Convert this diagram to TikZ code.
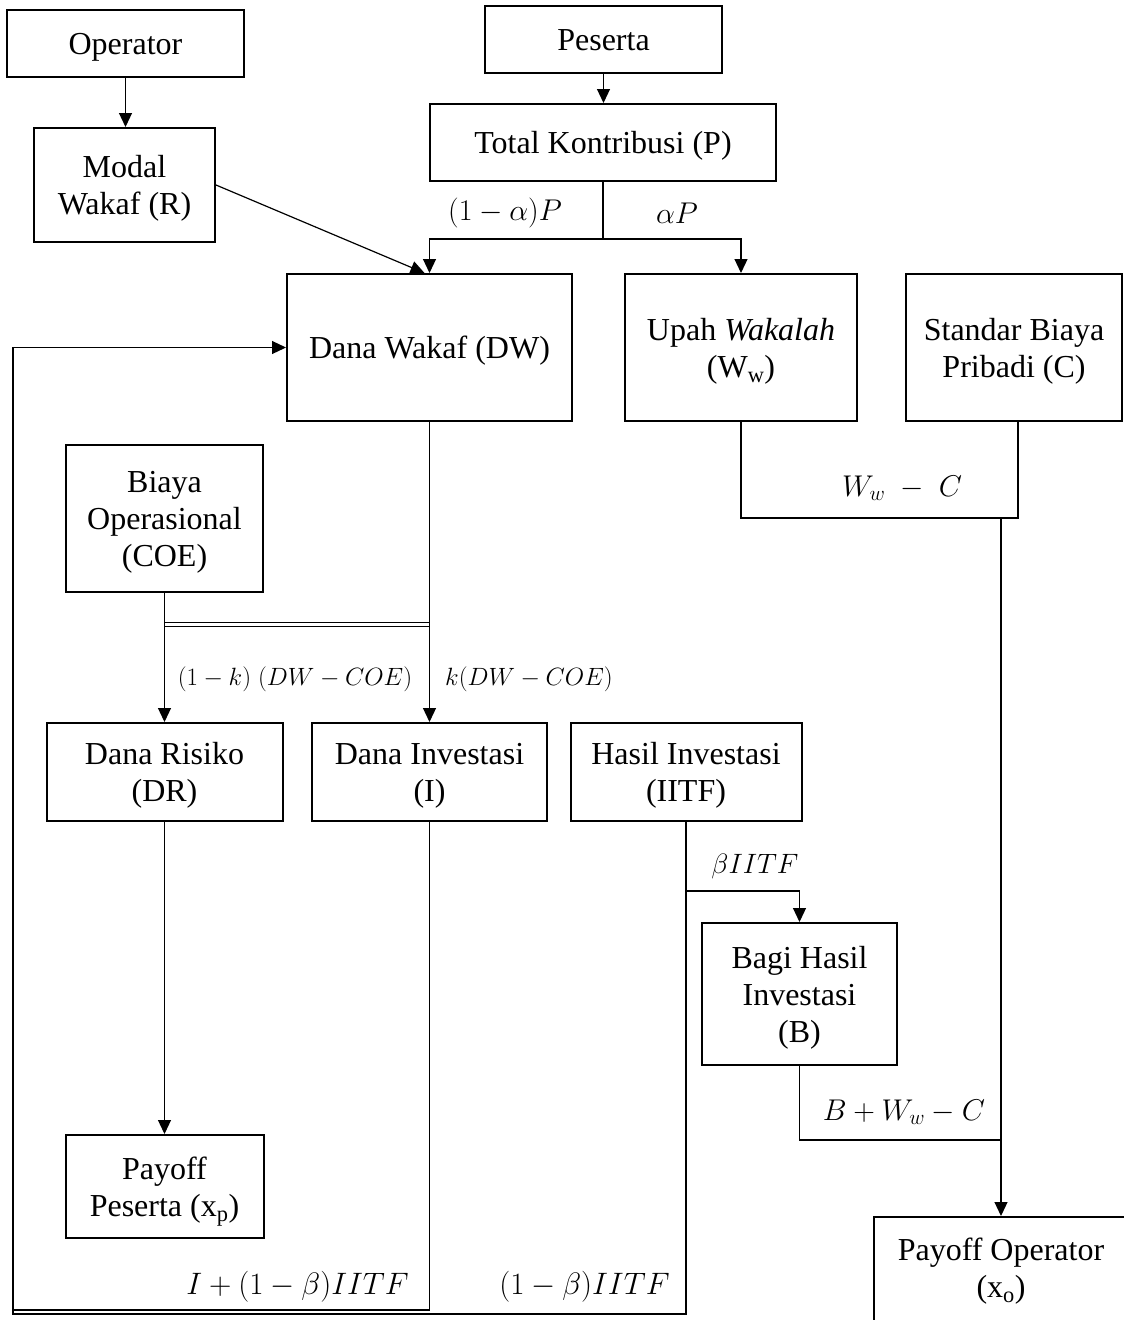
\RequirePackage{fix-cm}
\documentclass[tikz,border=0pt]{standalone}
\usepackage{fontspec}
\setmainfont{Liberation Serif}
\usetikzlibrary{arrows.meta}
\newcommand\boxtxt[1]{\raisebox{-4pt}[\height][\depth]{\begin{tabular}{@{}c@{}}#1\end{tabular}}}
\begin{document}
\begin{tikzpicture}[x=1pt,y=-1pt,
  box/.style={draw, line width=2pt, inner sep=0pt, font=\fontsize{32}{37}\selectfont},
  conn/.style={line width=1.2pt},
  arr/.style={conn, -{Triangle[length=14pt,width=13pt]}},
  lbl/.style={inner sep=0pt, font=\fontsize{30}{34}\selectfont},
  blbl/.style={inner sep=0pt, font=\fontsize{31}{34}\selectfont},
  slbl/.style={inner sep=0pt, font=\fontsize{25}{30}\selectfont}]
\useasboundingbox (0,0) rectangle (1124,1320);

% boxes
\node[box, minimum width=237, minimum height=67] (op) at (125.5,43.5) {\boxtxt{Operator}};
\node[box, minimum width=237, minimum height=67] (pes) at (603.5,39.5) {\boxtxt{Peserta}};
\node[box, minimum width=346, minimum height=77] (tk) at (603,142.5) {\boxtxt{Total Kontribusi (P)}};
\node[box, minimum width=181, minimum height=114] (mw) at (124.5,185) {\boxtxt{Modal\\Wakaf (R)}};
\node[box, minimum width=285, minimum height=147] (dw) at (429.5,347.5) {\boxtxt{Dana Wakaf (DW)}};
\node[box, minimum width=232, minimum height=147] (up) at (741,347.5) {\boxtxt{Upah \textit{Wakalah}\\(W\textsubscript{w})}};
\node[box, minimum width=216, minimum height=147] (sb) at (1014,347.5) {\boxtxt{Standar Biaya\\Pribadi (C)}};
\node[box, minimum width=197, minimum height=147] (coe) at (164.5,518.5) {\boxtxt{Biaya\\Operasional\\(COE)}};
\node[box, minimum width=236, minimum height=98] (dr) at (164.5,772) {\boxtxt{Dana Risiko\\(DR)}};
\node[box, minimum width=235, minimum height=98] (di) at (429.5,772) {\boxtxt{Dana Investasi\\(I)}};
\node[box, minimum width=231, minimum height=98] (hi) at (686,772) {\boxtxt{Hasil Investasi\\(IITF)}};
\node[box, minimum width=195, minimum height=142] (bh) at (799.5,994) {\boxtxt{Bagi Hasil\\Investasi\\(B)}};
\node[box, minimum width=198, minimum height=103] (pp) at (164.5,1186.5) {\boxtxt{Payoff\\Peserta (x\textsubscript{p})}};
\node[box, minimum width=254, minimum height=130, anchor=north] (pob) at (1001,1216) {};
\node[box, draw=none] (po) at (1001,1268) {\boxtxt{Payoff Operator\\(x\textsubscript{o})}};

% junction coordinates
\coordinate (sp) at (603,239);
\coordinate (d1) at (164.5,622);
\coordinate (d2) at (429.5,622);
\coordinate (d3) at (164.5,626);
\coordinate (d4) at (429.5,626);
\coordinate (hb) at (686,1314);
\coordinate (lb) at (13,1314);
\coordinate (lt) at (13,347.5);
\coordinate (ib) at (429.5,1310);
\coordinate (ilb) at (13,1310);
\coordinate (wj) at (741,518);
\coordinate (cj) at (1018,518);
\coordinate (oj) at (1001,518);
\coordinate (bj) at (686,891);
\coordinate (bj2) at (799.5,891);
\coordinate (bb) at (799.5,1140);
\coordinate (bb2) at (1001,1140);

% connectors
\draw[arr] (op.south) -- (op.south |- mw.north);
\draw[arr] (pes.south) -- (pes.south |- tk.north);
\draw[arr] (mw.east) -- ([xshift=-5pt]dw.north);
\draw[arr] (tk.south) -- (sp) -| (dw.north);
\draw[arr] (sp) -| (up.north);
\draw[arr] (dw.south) -- (di.north);
\draw[arr] (coe.south) -- (dr.north);
\draw[conn, line width=0.9pt] (d1) -- (d2) (d3) -- (d4);
\draw[arr] (dr.south) -- (pp.north);
\draw[arr] (hi.south) -- (hb) -- (lb) -- (lt) -- (dw.west);
\draw[conn] (di.south) -- (ib) -- (ilb);
\draw[conn] (up.south) -- (wj) -- (cj) -- ([xshift=4pt]sb.south);
\draw[arr] (oj) -- (pob.north);
\draw[arr] (bj) -- (bj2) -- (bh.north);
\draw[conn] (bh.south) -- (bb) -- (bb2);

% labels
\node[lbl] (l1) at (505,213) {$(1-\alpha)P$};
\node[lbl] (l2) at (677,213) {$\alpha P$};
\node[slbl] (l3) at (295,679) {$(1-k)\;(DW - COE)$};
\node[slbl] (l4) at (529,679) {$k(DW - COE)$};
\node[lbl] (l5) at (902,488) {$W_w\; -\; C$};
\node[lbl, font=\fontsize{28}{32}\selectfont] (l6) at (755,866) {$\beta IITF$};
\node[lbl] (l7) at (904,1112) {$B + W_w - C$};
\node[blbl, anchor=east] (l8) at (409,1287) {$I + (1-\beta)IITF$};
\node[blbl] (l9) at (584.5,1287) {$(1-\beta)IITF$};
\end{tikzpicture}
\end{document}
